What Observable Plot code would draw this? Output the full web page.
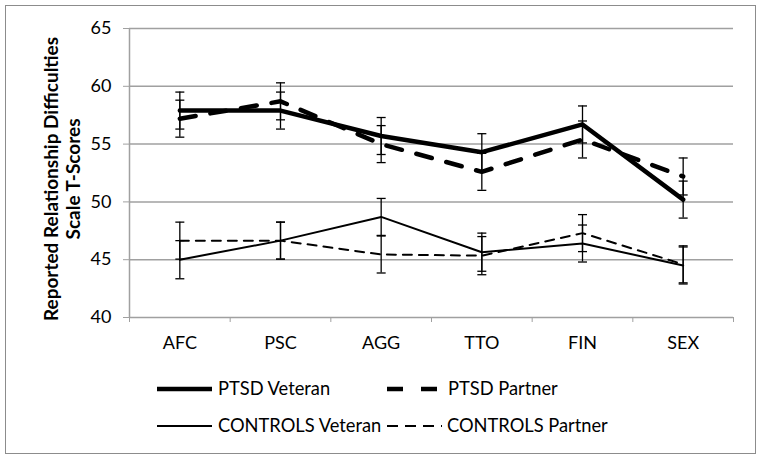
<!DOCTYPE html>
<html>
<head>
<meta charset="utf-8">
<script src="https://cdn.jsdelivr.net/npm/d3@7"></script>
<script src="https://cdn.jsdelivr.net/npm/@observablehq/plot@0.6"></script>
<style>
  html, body { margin: 0; padding: 0; background: #fff; }
  #wrap { position: relative; width: 762px; height: 460px; font-family: Lato, sans-serif; }
  #border { position: absolute; left: 5px; top: 5px; width: 751px; height: 449px; border: 1px solid #8c8c8c; box-sizing: border-box; }
  #chart { position: absolute; left: 0; top: 0; }
  .leg { position: absolute; font-size: 18.3px; color: #000; white-space: nowrap; line-height: 1; }
  .leg svg { position: absolute; }
</style>
</head>
<body>
<div id="wrap">
  <div id="border"></div>
  <div id="chart"></div>
  <div id="legend"></div>
</div>
<script>
const categories = ["AFC", "PSC", "AGG", "TTO", "FIN", "SEX"];
const seriesNames = ["PTSD Veteran", "PTSD Partner", "CONTROLS Veteran", "CONTROLS Partner"];
const ptsdVeteran = [57.9, 57.9, 55.7, 54.3, 56.7, 50.2];
const ptsdPartner = [57.2, 58.7, 55.0, 52.6, 55.4, 52.2];
const controlsVeteran = [45.0, 46.65, 48.7, 45.65, 46.4, 44.5];
const controlsPartner = [46.65, 46.65, 45.45, 45.35, 47.3, 44.6];
const ptsdVeteranSE = [1.6, 1.6, 1.6, 1.6, 1.6, 1.6];
const ptsdPartnerSE = [1.6, 1.6, 1.6, 1.6, 1.6, 1.6];
const controlsVeteranSE = [1.65, 1.6, 1.6, 1.65, 1.6, 1.6];
const controlsPartnerSE = [1.6, 1.6, 1.6, 1.65, 1.6, 1.6];
const yTicks = [40, 45, 50, 55, 60, 65];
const yTitle = ["Reported Relationship Difficulties", "Scale T-Scores"];

const styles = [
  {width: 4.5, dash: null},
  {width: 4.5, dash: "16,15"},
  {width: 2, dash: null},
  {width: 2, dash: "9,7"}
];
const valuesList = [ptsdVeteran, ptsdPartner, controlsVeteran, controlsPartner];
const seList = [ptsdVeteranSE, ptsdPartnerSE, controlsVeteranSE, controlsPartnerSE];

const n = categories.length;
const idx = d3.range(n);
const boundaries = d3.range(n + 1).map(i => i - 0.5);

const series = seriesNames.map((name, s) => ({
  name, ...styles[s],
  rows: idx.map(i => ({i, v: valuesList[s][i], se: seList[s][i]}))
}));

const capSymbol = {draw(ctx, size) { const r = 4.5; ctx.moveTo(-r, 0); ctx.lineTo(r, 0); }};
const grey = "#a0a0a0";

const marks = [
  Plot.gridY(yTicks, {stroke: grey, strokeOpacity: 1, strokeWidth: 1.5}),
  Plot.ruleX([boundaries[0]], {stroke: grey, strokeWidth: 1.5}),
  Plot.axisY({ticks: yTicks, tickSize: 6, tickPadding: 12, stroke: grey, strokeOpacity: 1, label: null, fontSize: 18}),
  Plot.axisX({ticks: boundaries, tickSize: 5, tickFormat: () => "", stroke: grey, strokeOpacity: 1, label: null}),
  Plot.axisX({ticks: idx, tickSize: 0, tickPadding: 19, tickFormat: i => categories[i], label: null, fontSize: 18}),
  Plot.text([yTitle.join("\n")], {frameAnchor: "left", textAnchor: "middle", lineAnchor: "middle", dx: -68, dy: 6, rotate: -90, fontWeight: "bold", fontSize: 19, lineHeight: 1.17})
];
for (const s of series) {
  marks.push(Plot.ruleX(s.rows, {x: "i", y1: d => d.v - d.se, y2: d => d.v + d.se, stroke: "black", strokeWidth: 1.3}));
  marks.push(Plot.dot(s.rows, {x: "i", y: d => d.v - d.se, symbol: capSymbol, stroke: "black", strokeWidth: 1.3, fill: "none"}));
  marks.push(Plot.dot(s.rows, {x: "i", y: d => d.v + d.se, symbol: capSymbol, stroke: "black", strokeWidth: 1.3, fill: "none"}));
  marks.push(Plot.line(s.rows, {x: "i", y: "v", stroke: "black", strokeWidth: s.width, strokeDasharray: s.dash, strokeLinejoin: "round"}));
}

const chart = Plot.plot({
  width: 762, height: 370,
  marginLeft: 129, marginRight: 29, marginTop: 28, marginBottom: 53,
  style: {fontFamily: "Lato, sans-serif", color: "#000", background: "transparent"},
  x: {type: "linear", domain: [boundaries[0], boundaries[n]]},
  y: {domain: [yTicks[0], yTicks[yTicks.length - 1]]},
  marks
});
document.getElementById("chart").appendChild(chart);

// legend
const legendPos = [
  {x: 157, y: 389, tx: 218, sw: 55},
  {x: 387, y: 389, tx: 448, sw: 50},
  {x: 157, y: 426, tx: 218, sw: 55},
  {x: 387, y: 426, tx: 447, sw: 55}
];
const legend = document.getElementById("legend");
series.forEach((s, k) => {
  const p = legendPos[k];
  const div = document.createElement("div");
  div.className = "leg";
  div.style.left = p.tx + "px";
  div.style.top = (p.y - 10) + "px";
  div.textContent = s.name;
  legend.appendChild(div);
  const svg = d3.select(legend).append("svg")
    .style("position", "absolute").style("left", p.x + "px").style("top", (p.y - 5) + "px")
    .attr("width", p.sw).attr("height", 10);
  svg.append("line").attr("x1", 0).attr("x2", p.sw).attr("y1", 5).attr("y2", 5)
    .attr("stroke", "black").attr("stroke-width", s.width)
    .attr("stroke-dasharray", s.dash ? (k === 1 ? "16,18" : "11,7") : null);
});
</script>
</body>
</html>
